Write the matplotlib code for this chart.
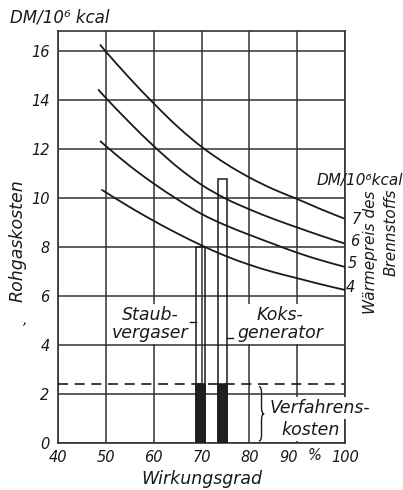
import matplotlib
matplotlib.use("Agg")
import matplotlib.pyplot as plt
from matplotlib.path import Path
from matplotlib.patches import PathPatch, Rectangle
from matplotlib.transforms import ScaledTranslation

# Waermepreis des Brennstoffs (DM/10^6 kcal) -> Rohgaskosten curves
preis = [7, 6, 5, 4]
eta_7 = [48.8, 50, 55, 60, 65, 70, 75, 80, 85, 90, 95, 100]
kosten_7 = [16.25, 15.96, 14.87, 13.85, 12.9, 12.08, 11.4, 10.83, 10.35, 9.95, 9.53, 9.14]
eta_6 = [48.4, 50, 55, 60, 65, 70, 75, 80, 85, 90, 95, 100]
kosten_6 = [14.42, 14.07, 13.06, 12.11, 11.25, 10.53, 9.97, 9.53, 9.14, 8.79, 8.45, 8.13]
eta_5 = [48.8, 50, 55, 60, 65, 70, 75, 80, 85, 90, 95, 100]
kosten_5 = [12.32, 12.11, 11.3, 10.58, 9.93, 9.34, 8.88, 8.49, 8.12, 7.76, 7.45, 7.18]
eta_4 = [49.2, 50, 55, 60, 65, 70, 75, 80, 85, 90, 95, 100]
kosten_4 = [10.33, 10.22, 9.62, 9.06, 8.54, 8.06, 7.63, 7.27, 6.97, 6.72, 6.47, 6.24]

# the two processes
verfahren = ["Staub-\nvergaser", "Koks-\ngenerator"]
verfahren_eta = [69.8, 74.4]
verfahren_rohgas = [8.0, 10.75]
verfahrenskosten = 2.4

xticks = [40, 50, 60, 70, 80, 90, 100]
yticks = [0, 2, 4, 6, 8, 10, 12, 14, 16]

W, H = 403, 490
fig = plt.figure(figsize=(W / 100, H / 100), dpi=100)
ax = fig.add_axes([58 / W, 1 - 443 / H, 287 / W, 412 / H])
ax.set_xlim(40, 100)
ax.set_ylim(0, 16.8)

ink = "#1a1a1a"
it = dict(style="italic", color=ink)

ax.set_xticks(xticks)
ax.set_yticks(yticks)
ax.set_xticklabels([str(t) for t in xticks], fontsize=10.5, **it)
ax.set_yticklabels([str(t) for t in yticks], fontsize=10.5, **it)
ax.tick_params(length=0)
ax.tick_params(axis="x", pad=5)
ax.tick_params(axis="y", pad=6)
# "90" sits a bit left in the original, to make room for the % sign
lab90 = ax.get_xticklabels()[5]
lab90.set_transform(lab90.get_transform() + ScaledTranslation(-6 / 72, 0, fig.dpi_scale_trans))
ax.grid(True, color="#333333", lw=1.1)
ax.set_axisbelow(True)
for s in ax.spines.values():
    s.set_color("#333333")
    s.set_linewidth(1.2)


def smooth_line(ax, xs, ys):
    # draw through the read points with bezier segments (catmull-rom tangents)
    pts = list(zip(xs, ys))
    ext = [pts[0]] + pts + [pts[-1]]
    verts = [pts[0]]
    codes = [Path.MOVETO]
    for i in range(1, len(ext) - 2):
        p0, p1, p2, p3 = ext[i - 1], ext[i], ext[i + 1], ext[i + 2]
        c1 = (p1[0] + (p2[0] - p0[0]) / 6, p1[1] + (p2[1] - p0[1]) / 6)
        c2 = (p2[0] - (p3[0] - p1[0]) / 6, p2[1] - (p3[1] - p1[1]) / 6)
        verts += [c1, c2, p2]
        codes += [Path.CURVE4] * 3
    ax.add_patch(PathPatch(Path(verts, codes), fill=False, ec=ink, lw=1.3, zorder=3))


for e, k in [(eta_7, kosten_7), (eta_6, kosten_6), (eta_5, kosten_5), (eta_4, kosten_4)]:
    smooth_line(ax, e, k)

# Verfahrenskosten dashed line
ax.axhline(verfahrenskosten, color=ink, lw=1.2, ls=(0, (6, 4)), zorder=3)

# bars: open outline up to Rohgaskosten, dark part = Verfahrenskosten
bw = 1.8
for x, top in zip(verfahren_eta, verfahren_rohgas):
    ax.add_patch(Rectangle((x - bw / 2, 0), bw, top, fill=False,
                           ec=ink, lw=1.1, zorder=3))
    ax.add_patch(Rectangle((x - bw / 2, 0), bw, verfahrenskosten,
                           fc="#202020", ec=ink, lw=1.1, zorder=3))

box = dict(fc="white", ec="none", pad=1.5)
ax.text(59.3, 4.85, verfahren[0], ha="center", va="center", fontsize=12.5,
        linespacing=1.05, bbox=box, zorder=4, **it)
ax.text(86.4, 4.85, verfahren[1], ha="center", va="center", fontsize=12.5,
        linespacing=1.05, bbox=box, zorder=4, **it)
# leader ticks to the bars
ax.plot([67.5, 68.8], [4.95, 4.95], color=ink, lw=1.0, zorder=4)
ax.plot([75.4, 76.6], [4.3, 4.3], color=ink, lw=1.0, zorder=4)


def brace(ax, x, y0, y1, w, h):
    mid = (y0 + y1) / 2
    xm = x + w / 2
    verts = [(x, y1), (xm, y1), (xm, y1 - h), (xm, mid + h), (xm, mid), (x + w, mid),
             (xm, mid), (xm, mid - h), (xm, y0 + h), (xm, y0), (x, y0)]
    codes = [Path.MOVETO, Path.CURVE3, Path.CURVE3, Path.LINETO, Path.CURVE3, Path.CURVE3,
             Path.CURVE3, Path.CURVE3, Path.LINETO, Path.CURVE3, Path.CURVE3]
    ax.add_patch(PathPatch(Path(verts, codes), fill=False, ec=ink, lw=1.0, zorder=4))


brace(ax, 82.0, 0.08, 2.3, 1.1, 0.25)
ax.text(84.2, 1.42, "Verfahrens-", ha="left", va="center", fontsize=12.5,
        bbox=box, zorder=4, **it)
ax.text(92.7, 0.52, "kosten", ha="center", va="center", fontsize=12.5,
        bbox=box, zorder=4, **it)

# percent sign between 90 and 100
ax.text(93.6, -0.5, "%", ha="center", va="center", fontsize=10.5,
        clip_on=False, **it)

# curve numbers at the right end
for p, x, y in zip(preis, [102.3, 102.1, 101.6, 101.1], [9.1, 8.2, 7.3, 6.36]):
    ax.text(x, y, str(p), ha="center", va="center", fontsize=10.5,
            clip_on=False, **it)

ax.set_xlabel("Wirkungsgrad", fontsize=12.5, labelpad=4, **it)

# figure texts
fig.text(18 / W, 1 - 241 / H, "Rohgaskosten", rotation=90, ha="center",
         va="center", fontsize=12.5, **it)
fig.text(25 / W, 1 - 320 / H, ",", ha="center", va="center", fontsize=10, **it)
fig.text(10 / W, 1 - 18 / H, "DM/10\u2076 kcal", ha="left", va="center",
         fontsize=12, **it)
fig.text(317 / W, 1 - 180 / H, "DM/10\u2076kcal", ha="left", va="center",
         fontsize=11, **it)
fig.text(370 / W, 1 - 190 / H, "Wärmepreis des", rotation=90, ha="center",
         va="top", fontsize=11, **it)
fig.text(391 / W, 1 - 188 / H, "Brennstoffs", rotation=90, ha="center",
         va="top", fontsize=11, **it)

fig.savefig("out.png", dpi=100)
